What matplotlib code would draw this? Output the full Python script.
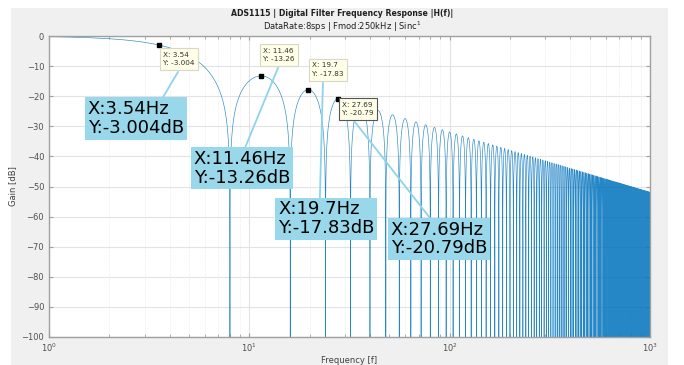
#!/usr/bin/env python3
"""
ADS1115 sinc 필터 주파수 응답 |H(f)| 그림 (8 SPS, fmod 250 kHz, Sinc^1)
"""
import numpy as np
import matplotlib
matplotlib.use('Agg')
import matplotlib.pyplot as plt
from matplotlib.patches import Rectangle

# ─── 필터 설정 ────────────────────────────────────────────────────────────
DATA_RATE  = 8.0        # sps
F_MOD      = 250e3      # Hz
SINC_ORDER = 1

# 데이터 팁 (MATLAB 커서 값)
tip_x = [3.54, 11.46, 19.7, 27.69]
tip_y = [-3.004, -13.26, -17.83, -20.79]

# 팁 상자/주석 상자 위치 (데이터 좌표, 좌상단)
small_pos = [(3.72, -5.2), (11.75, -3.9), (20.6, -8.8), (29.1, -21.8)]
big_pos   = [(1.56, -21.3), (5.28, -37.9), (13.9, -54.6), (50.8, -61.3)]
links     = [((3.71, -20.3), (4.40, -12.0)),
             ((9.51, -37.2), (13.9, -10.6)),
             ((22.5, -53.8), (23.3, -15.6)),
             ((33.7, -28.6), (79.8, -60.5))]

# ─── 응답 계산 ────────────────────────────────────────────────────────────
N = F_MOD / DATA_RATE
nulls = np.arange(DATA_RATE, 1000, DATA_RATE)
f = np.sort(np.concatenate([np.linspace(1, 1000, 400000), nulls]))
with np.errstate(divide='ignore', invalid='ignore'):
    H = np.abs(np.sin(np.pi * f * N / F_MOD) / (N * np.sin(np.pi * f / F_MOD))) ** SINC_ORDER
gain = 20 * np.log10(np.maximum(H, 1e-12))

# ─── 그림 ─────────────────────────────────────────────────────────────────
fig = plt.figure(figsize=(6.84, 3.65), dpi=100, facecolor='white')
fig.patches.append(Rectangle((11/684, 0), 657/684, 1 - 8/365,
                             transform=fig.transFigure, facecolor='#f0f0f0',
                             edgecolor='none', zorder=-10))

ax = fig.add_axes([49/684, 1 - 337/365, 601/684, 301/365])
ax.set_facecolor('white')
ax.plot(f, gain, color='#0072BD', lw=0.45, alpha=0.85)

ax.set_xscale('log')
ax.set_xlim(1, 1000)
ax.set_ylim(-100, 0)
ax.set_yticks(np.arange(-100, 1, 10))

ax.grid(True, which='major', color='#e3e3e3', lw=0.8)
ax.grid(True, which='minor', axis='x', color='#e6e6e6', lw=0.6, ls=':')
ax.set_axisbelow(True)
for s in ax.spines.values():
    s.set_color('#a0a0a0')
    s.set_linewidth(1.0)
ax.tick_params(which='both', direction='in', top=True, right=True,
               colors='#a0a0a0', labelcolor='#505050', labelsize=6)
ax.tick_params(which='major', length=3)
ax.tick_params(which='minor', length=2)

ax.set_xlabel('Frequency [f]', fontsize=6, color='#404040', labelpad=1)
ax.set_ylabel('Gain [dB]', fontsize=6, color='#404040', labelpad=3)

fig.text(0.5, 1 - 13/365, 'ADS1115 | Digital Filter Frequency Response |H(f)|',
         ha='center', va='center', fontsize=5.6, fontweight='bold', color='#202020')
fig.text(0.5, 1 - 27/365, 'DataRate:8sps | Fmod:250kHz | Sinc$^1$',
         ha='center', va='center', fontsize=6, color='#202020')

# 연결선
for (x0, y0), (x1, y1) in links:
    ax.plot([x0, x1], [y0, y1], color='#8fd3ea', lw=1.3, zorder=4, clip_on=False)

# 데이터 팁
ax.plot(tip_x, tip_y, 's', color='black', ms=3.5, zorder=6)
for i, (x, y) in enumerate(zip(tip_x, tip_y)):
    sx, sy = small_pos[i]
    ax.text(sx, sy, f'X: {x:g}\nY: {y:g}', ha='left', va='top', fontsize=5.2,
            color='#303030', linespacing=1.5, zorder=7,
            bbox=dict(boxstyle='square,pad=0.5', facecolor='#ffffe8',
                      edgecolor='#555555' if i == 3 else '#d8d8c8', lw=0.8))
    bx, by = big_pos[i]
    ax.text(bx, by, f'X:{x:g}Hz\nY:{y:g}dB', ha='left', va='top', fontsize=13,
            color='black', linespacing=1.05, zorder=8,
            bbox=dict(boxstyle='square,pad=0.15', facecolor='#98d8ea',
                      edgecolor='none'))

plt.savefig('out.png', dpi=100, facecolor='white')
plt.close()
